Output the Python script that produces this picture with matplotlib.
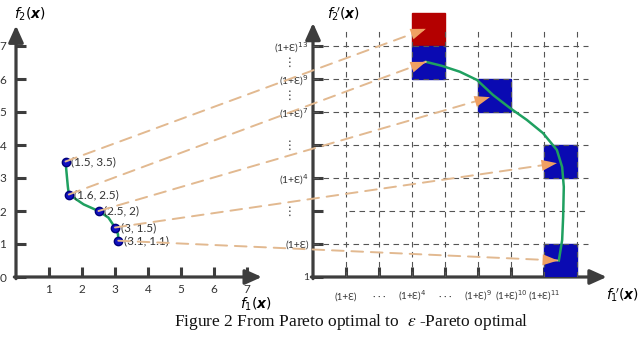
import matplotlib.pyplot as plt
from matplotlib.patches import Rectangle, ConnectionPatch

plt.rcParams['font.family'] = ['Lato', 'DejaVu Sans']

# left chart: Pareto optimal points
pts_x = [1.5, 1.6, 2.5, 3.0, 3.1]
pts_y = [3.5, 2.5, 2.0, 1.5, 1.1]
pts_labels = ['(1.5, 3.5)', '(1.6, 2.5)', '(2.5, 2)', '(3, 1.5)', '(3.1, 1.1)']
front_x = [1.5, 1.57, 1.6, 1.8, 2.05, 2.5, 2.8, 3.0, 3.09, 3.1]
front_y = [3.5, 2.75, 2.5, 2.37, 2.2, 2.0, 1.8, 1.5, 1.3, 1.1]
left_xticks = [1, 2, 3, 4, 5, 6, 7]
left_yticks = [0, 1, 2, 3, 4, 5, 6, 7]

# right chart: epsilon boxes
box_x = [3, 3, 5, 7, 7]
box_y = [7, 6, 5, 3, 0]
box_colors = ['#b40000', '#0a0ab2', '#0a0ab2', '#0a0ab2', '#0a0ab2']
tip_x = [3.42, 3.42, 5.36, 7.39, 7.42]
tip_y = [7.52, 6.52, 5.45, 3.45, 0.5]
eps_x = [3.42, 3.9, 4.45, 4.97, 5.45, 5.97, 6.48, 6.97, 7.39, 7.55, 7.6, 7.58, 7.55, 7.45]
eps_y = [6.52, 6.4, 6.22, 5.97, 5.52, 5.12, 4.76, 4.36, 3.85, 3.33, 2.73, 1.82, 1.12, 0.5]
grid_cols = [1, 2, 3, 4, 5, 6, 7, 8]
grid_rows = [1, 2, 3, 4, 5, 6, 7]
right_xticks = [1, 2, 3, 4, 5, 6, 7]
right_xlabels = ['(1+Ɛ)', '· · ·', '(1+Ɛ)$^4$', '· · ·', '(1+Ɛ)$^9$', '(1+Ɛ)$^{10}$', '(1+Ɛ)$^{11}$']
right_yticks = [0, 1, 2, 3, 4, 5, 6, 7]
right_ylabels = ['1', '(1+Ɛ)', '', '(1+Ɛ)$^4$', '', '(1+Ɛ)$^7$', '(1+Ɛ)$^9$', '(1+Ɛ)$^{13}$']
vdots_y = [2, 4, 5.5, 6.5]

axis_c = '#3d3d3d'
S = 33.0  # pixels per unit in both charts

fig = plt.figure(figsize=(6.4, 3.37), dpi=100)

def place(x0, y0, w, h):
    # x0, y0: pixel position of data origin (y from top)
    return [x0 / 640, (337 - y0) / 337, w * S / 640, h * S / 337]

ax1 = fig.add_axes(place(16, 277, 7.6, 7.8))
ax1.set_xlim(0, 7.6)
ax1.set_ylim(0, 7.8)
ax2 = fig.add_axes(place(313, 277, 9.0, 8.2))
ax2.set_xlim(0, 9.0)
ax2.set_ylim(0, 8.2)

for ax, xtop, ytop in [(ax1, 7.45, 7.62), (ax2, 8.9, 7.7)]:
    for s in ax.spines.values():
        s.set_visible(False)
    ax.patch.set_alpha(0)
    ax.tick_params(direction='in', length=7.5, width=2.2, color=axis_c,
                   labelsize=8.5, labelcolor='#333333')
    arrow = dict(arrowstyle='-|>,head_length=1.0,head_width=0.45', color=axis_c,
                 lw=2.3, shrinkA=0, shrinkB=0, clip_on=False, zorder=6)
    ax.annotate('', xy=(xtop, 0), xytext=(-0.05, 0), arrowprops=arrow, annotation_clip=False)
    ax.annotate('', xy=(0, ytop), xytext=(0, -0.05), arrowprops=arrow, annotation_clip=False)

# left chart
ax1.set_xticks(left_xticks, [str(v) for v in left_xticks])
ax1.set_yticks(left_yticks, [str(v) for v in left_yticks])
ax1.tick_params(axis='x', pad=5)
ax1.tick_params(axis='y', pad=7)
ax1.plot(front_x, front_y, color='#1fa060', lw=1.8, zorder=3)
ax1.plot(pts_x, pts_y, 'o', color='#1010c0', mec='#00007a', ms=6, zorder=4)
for x, y, t in zip(pts_x, pts_y, pts_labels):
    ax1.annotate(t, (x, y), xytext=(4, 0), textcoords='offset points',
                 va='center', fontsize=8.5, color='#333333')

# right chart
for bx, by, c in zip(box_x, box_y, box_colors):
    ax2.add_patch(Rectangle((bx, by), 1, 1, color=c, zorder=3))
for c in grid_cols:
    ax2.plot([c, c], [0, 7.58], color='#555555', lw=0.8, dashes=(5, 4), zorder=4)
for r in grid_rows:
    start = 1.1 if r == 2 else 0
    ax2.plot([start, 8.33], [r, r], color='#555555', lw=0.8, dashes=(5, 4), zorder=4)
ax2.plot(eps_x, eps_y, color='#1fa060', lw=1.8, zorder=5)

ax2.set_xticks(right_xticks, [''] * len(right_xticks))
for x, t in zip(right_xticks, right_xlabels):
    ax2.text(x, -0.68, t, ha='center', va='baseline', fontsize=7, color='#333333')
ax2.set_yticks(right_yticks, right_ylabels)
ax2.tick_params(axis='y', pad=3, labelsize=7.5)
for y in vdots_y:
    ax2.text(-0.7, y, '⋮', ha='center', va='center', fontsize=8.5,
             color='#333333', family='DejaVu Sans')

# dashed mapping arrows from left points to right boxes
for x, y, tx, ty in zip(pts_x, pts_y, tip_x, tip_y):
    line = ConnectionPatch((x, y), (tx, ty), coordsA=ax1.transData, coordsB=ax2.transData,
                           arrowstyle='-', color='#e2b990', lw=1.4, linestyle=(0, (6, 4)),
                           zorder=2)
    fig.add_artist(line)
    head = ConnectionPatch((x, y), (tx, ty), coordsA=ax1.transData, coordsB=ax2.transData,
                           arrowstyle='-|>,head_length=1.1,head_width=0.4',
                           color='#f0a062', lw=0, zorder=3)
    fig.add_artist(head)

# axis titles
fig.text(30 / 640, 1 - 14 / 337, r'$f_2(\mathbfit{x})$', ha='center', va='center', fontsize=10)
fig.text(256 / 640, 1 - 304 / 337, r'$f_1(\mathbfit{x})$', ha='center', va='center', fontsize=10)
fig.text(343 / 640, 1 - 14 / 337, r"$f_2\!{}^{\prime}(\mathbfit{x})$", ha='center', va='center', fontsize=10)
fig.text(622 / 640, 1 - 295 / 337, r"$f_1\!{}^{\prime}(\mathbfit{x})$", ha='center', va='center', fontsize=10)

fig.text(351 / 640, 1 - 322 / 337, 'Figure 2 From Pareto optimal to  $\\varepsilon$ -Pareto optimal',
         ha='center', va='center', fontsize=12.5, family='Liberation Serif',
         math_fontfamily='stix', color='#111111')

fig.savefig('out.png', dpi=100)
